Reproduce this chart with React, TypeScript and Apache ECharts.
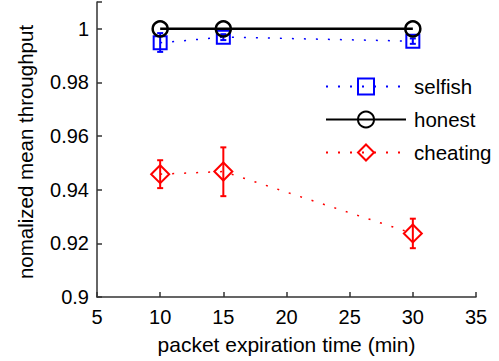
import React, { useEffect, useRef } from "react";
import * as echarts from "echarts";

const xValues = [10, 15, 30];
const selfish = [0.9948, 0.9969, 0.9954];
const selfishLow = [0.9914, 0.9958, 0.9944];
const selfishHigh = [0.9984, 0.9980, 0.9964];
const honest = [1.0, 1.0, 1.0];
const cheating = [0.9458, 0.9468, 0.9237];
const cheatingLow = [0.9406, 0.9376, 0.9182];
const cheatingHigh = [0.9510, 0.9558, 0.9292];
const yTicks = [0.9, 0.92, 0.94, 0.96, 0.98, 1];
const xTitle = "packet expiration time (min)";
const yTitle = "nomalized mean throughput";

const FONT = "Liberation Sans, Arial, Helvetica, sans-serif";
const AXIS = "#333333";

function errorSeries(name: string, low: number[], high: number[], color: string) {
  return {
    type: "custom",
    name: name + "-err",
    silent: true,
    z: 3,
    data: xValues.map((x, i) => [x, low[i], high[i]]),
    renderItem: (params: any, api: any) => {
      const x = api.value(0);
      const lo = api.coord([x, api.value(1)]);
      const hi = api.coord([x, api.value(2)]);
      const cap = 3;
      const style = { stroke: color, lineWidth: 2, fill: "none" };
      return {
        type: "group",
        children: [
          { type: "line", shape: { x1: lo[0], y1: lo[1], x2: hi[0], y2: hi[1] }, style },
          { type: "line", shape: { x1: lo[0] - cap, y1: lo[1], x2: lo[0] + cap, y2: lo[1] }, style },
          { type: "line", shape: { x1: hi[0] - cap, y1: hi[1], x2: hi[0] + cap, y2: hi[1] }, style },
        ],
      };
    },
  };
}

export default function App() {
  const ref = useRef<HTMLDivElement>(null);
  useEffect(() => {
    if (!ref.current) return;
    const chart = echarts.init(ref.current, undefined, { renderer: "svg" });
    const option: any = {
      animation: false,
      backgroundColor: "#ffffff",
      textStyle: { fontFamily: FONT },
      grid: { left: 97, right: 23, top: 2, bottom: 64, containLabel: false },
      graphic: [
        {
          type: "text",
          x: 25,
          y: 152,
          rotation: Math.PI / 2,
          style: {
            text: yTitle,
            fontSize: 20.5,
            fontFamily: FONT,
            fill: "#000",
            align: "center",
            verticalAlign: "middle",
          },
        },
      ],
      xAxis: {
        type: "value",
        min: 5,
        max: 35,
        interval: 5,
        name: xTitle,
        nameLocation: "middle",
        nameGap: 37,
        nameTextStyle: { fontSize: 21, color: "#000", fontFamily: FONT },
        axisLine: { show: true, lineStyle: { color: AXIS, width: 1.5 } },
        axisTick: { show: true, inside: true, length: 5, lineStyle: { color: AXIS, width: 1.5 } },
        axisLabel: { fontSize: 20, color: "#000", margin: 10, fontFamily: FONT },
        splitLine: { show: false },
      },
      yAxis: {
        type: "value",
        min: 0.9,
        max: 1.01,
        interval: 0.02,
        axisLine: { show: true, lineStyle: { color: AXIS, width: 1.5 } },
        axisTick: { show: true, inside: true, length: 5, lineStyle: { color: AXIS, width: 1.5 } },
        axisLabel: {
          fontSize: 20,
          color: "#000",
          margin: 8,
          fontFamily: FONT,
          formatter: (v: number) => {
            const r = Math.round(v * 100) / 100;
            return yTicks.some((t) => Math.abs(t - r) < 1e-9) ? String(r) : "";
          },
        },
        splitLine: { show: false },
      },
      legend: {
        show: true,
        orient: "vertical",
        left: 320,
        top: 71,
        itemWidth: 80,
        itemHeight: 20,
        itemGap: 12,
        data: ["selfish", "honest", "cheating"],
        textStyle: { fontSize: 20.5, color: "#000", fontFamily: FONT, padding: [0, 0, 0, 3] },
      },
      series: [
        errorSeries("selfish", selfishLow, selfishHigh, "#0000ff"),
        errorSeries("cheating", cheatingLow, cheatingHigh, "#ff0000"),
        {
          name: "selfish",
          type: "line",
          z: 4,
          data: xValues.map((x, i) => [x, selfish[i]]),
          symbol: "rect",
          symbolSize: 13,
          lineStyle: { color: "#0000ff", width: 1.5, type: [2, 10] },
          itemStyle: { color: "rgba(255,255,255,0)", borderColor: "#0000ff", borderWidth: 2 },
        },
        {
          name: "honest",
          type: "line",
          z: 5,
          data: xValues.map((x, i) => [x, honest[i]]),
          symbol: "circle",
          symbolSize: 15,
          lineStyle: { color: "#000000", width: 2.5, type: "solid" },
          itemStyle: { color: "rgba(255,255,255,0)", borderColor: "#000000", borderWidth: 2.5 },
        },
        {
          name: "cheating",
          type: "line",
          z: 4,
          data: xValues.map((x, i) => [x, cheating[i]]),
          symbol: "diamond",
          symbolSize: [18, 18],
          lineStyle: { color: "#ff0000", width: 1.5, type: [2, 10] },
          itemStyle: { color: "rgba(255,255,255,0)", borderColor: "#ff0000", borderWidth: 2 },
        },
      ],
    };
    chart.setOption(option);
    return () => chart.dispose();
  }, []);
  return (
    <div
      ref={ref}
      style={{ position: "absolute", left: 0, top: 0, width: 499, height: 361 }}
    />
  );
}
